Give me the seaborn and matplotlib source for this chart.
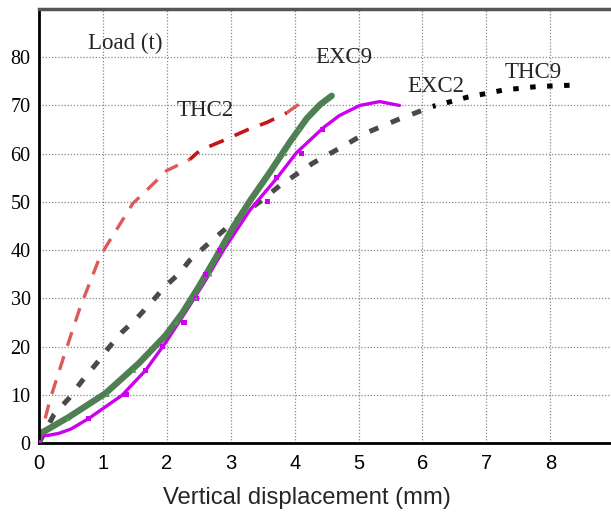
import matplotlib
matplotlib.use("Agg")
import matplotlib.pyplot as plt
import seaborn as sns
import pandas as pd

# ---- data ----
thc2_x = [0, 0.17, 0.38, 0.64, 0.95, 1.06, 1.47, 1.73, 2.0, 2.36, 2.52, 2.88, 3.27, 3.57, 3.88, 4.08]
thc2_y = [0, 8.9, 17.6, 28, 38.5, 41, 49.7, 53, 56.5, 58.8, 60.7, 62.7, 65, 66.5, 68.5, 70.4]

thc9_x = [0, 0.23, 0.47, 0.68, 0.9, 1.1, 1.3, 1.54, 1.76, 1.96, 2.19, 2.36, 2.62, 3.04, 3.5,
          3.77, 4.28, 4.82, 5.1, 5.64, 6.16, 6.7, 7.27, 7.78, 8.33, 8.4]
thc9_y = [0, 5.8, 9.3, 13, 16.5, 19.9, 23, 26, 29.2, 32.3, 35.1, 37.9, 41, 45.8, 50.5,
          53.4, 58, 62, 64.2, 67.2, 69.8, 71.7, 73.2, 73.9, 74.2, 74.2]

exc9_x = [0, 0.47, 1.04, 1.56, 1.98, 2.24, 2.5, 2.77, 3.04, 3.3, 3.61, 3.93, 4.19, 4.4, 4.58]
exc9_y = [1.8, 5.4, 10.3, 16.5, 22.3, 26.9, 32.4, 38.5, 44.8, 50.2, 56.1, 62.5, 67.3, 70.2, 72]
exc9_pts_x = [0, 0.45, 1.07, 1.49, 2.15, 2.46, 2.68, 3.85, 4.08]
exc9_pts_y = [0, 5, 10, 15, 25, 30, 35, 60, 65]

exc2_x = [0, 0.15, 0.31, 0.5, 0.78, 1.05, 1.3, 1.67, 1.99, 2.3, 2.6, 2.9, 3.3, 3.72, 4.03,
          4.45, 4.7, 5.02, 5.33, 5.64]
exc2_y = [1.5, 1.6, 2.0, 2.9, 5.1, 7.6, 9.9, 15.1, 21, 27.3, 33.6, 40.3, 48.3, 54.9, 60.2,
          65.4, 67.9, 70, 70.8, 70]
exc2_pts_x = [0, 0.78, 1.36, 1.67, 1.93, 2.27, 2.47, 2.6, 2.83, 3.57, 3.71, 4.11, 4.44]
exc2_pts_y = [0, 5, 10, 15, 20, 25, 30, 35, 40, 50, 55, 60, 65]

x_ticks = [0, 1, 2, 3, 4, 5, 6, 7, 8]
y_ticks = [0, 10, 20, 30, 40, 50, 60, 70, 80]
x_label = "Vertical displacement (mm)"
y_title = "Load (t)"
labels = ["THC2", "EXC9", "EXC2", "THC9"]

sns.set_style("white")
SERIF = "Liberation Serif"
SANS = "Liberation Sans"

fig = plt.figure(figsize=(6.11, 5.15), dpi=100)
ax = fig.add_axes([39/611, 72/515, 1 - 39/611, (443 - 9)/515])


def seg(xs, ys, a, b, **kw):
    sns.lineplot(x=xs[a:b], y=ys[a:b], ax=ax, sort=False, estimator=None, **kw)


# THC9: gray dashes turning into black dots
split = 21
seg(thc9_x, thc9_y, 0, split, color="#4a4a4a", lw=3.6, linestyle=(0, (1.9, 2.7)))
seg(thc9_x, thc9_y, split - 1, None, color="black", lw=3.6, linestyle=(0.5, (1.1, 2.3)))

# THC2: red dashes, darker in the middle stretch
seg(thc2_x, thc2_y, 0, 10, color="#dc5a5a", lw=2.4, linestyle=(0, (4.3, 3.3)))
seg(thc2_x, thc2_y, 9, 15, color="#c81414", lw=2.6, linestyle=(1, (4.3, 3.3)))
seg(thc2_x, thc2_y, 14, None, color="#dc5a5a", lw=2.4, linestyle=(0, (4.3, 3.3)))

# EXC2: magenta curve + square markers
seg(exc2_x, exc2_y, 0, None, color="#cc00ee", lw=2.4)
sns.scatterplot(x=exc2_pts_x, y=exc2_pts_y, ax=ax, marker="s", s=14,
                color="#cc00ee", edgecolor="none", zorder=4)

# EXC9: thick green curve + small triangles
seg(exc9_x, exc9_y, 0, None, color="#4f7f52", lw=4.6)
sns.scatterplot(x=exc9_pts_x, y=exc9_pts_y, ax=ax, marker="^", s=10,
                color="#4f9f52", edgecolor="none", zorder=4)

ax.set_xlim(0, 8.95)
ax.set_ylim(0, 90)
ax.set_xticks(x_ticks)
ax.set_yticks(y_ticks)
ax.set_xticklabels([str(v) for v in x_ticks], fontfamily=SANS, fontsize=14.5)
ax.set_yticklabels([str(v) for v in y_ticks], fontfamily=SERIF, fontsize=14.5)
ax.tick_params(axis="x", direction="in", length=4, width=1.2, pad=8, colors="black")
ax.tick_params(axis="y", direction="out", length=4, width=1.2, pad=2, colors="black")
ax.set_xlabel(x_label, fontfamily=SANS, fontsize=17.2)
ax.xaxis.set_label_coords(0.469, -0.102)
ax.set_ylabel("")

ax.grid(True, color="#888888", linestyle=(0, (1, 1.5)), linewidth=0.9)
ax.set_axisbelow(True)
for s in ["left", "bottom"]:
    ax.spines[s].set_color("black")
    ax.spines[s].set_linewidth(2)
ax.spines["right"].set_visible(False)
ax.spines["top"].set_color("#555555")
ax.spines["top"].set_linewidth(2.5)

ax.text(0.77, 81.8, y_title, fontfamily=SERIF, fontsize=16.5)
ax.text(2.16, 67.9, labels[0], fontfamily=SERIF, fontsize=16.5)
ax.text(4.32, 78.7, labels[1], fontfamily=SERIF, fontsize=16.5)
ax.text(5.77, 72.7, labels[2], fontfamily=SERIF, fontsize=16.5)
ax.text(7.29, 75.6, labels[3], fontfamily=SERIF, fontsize=16.5)

fig.savefig("out.png", dpi=100)
